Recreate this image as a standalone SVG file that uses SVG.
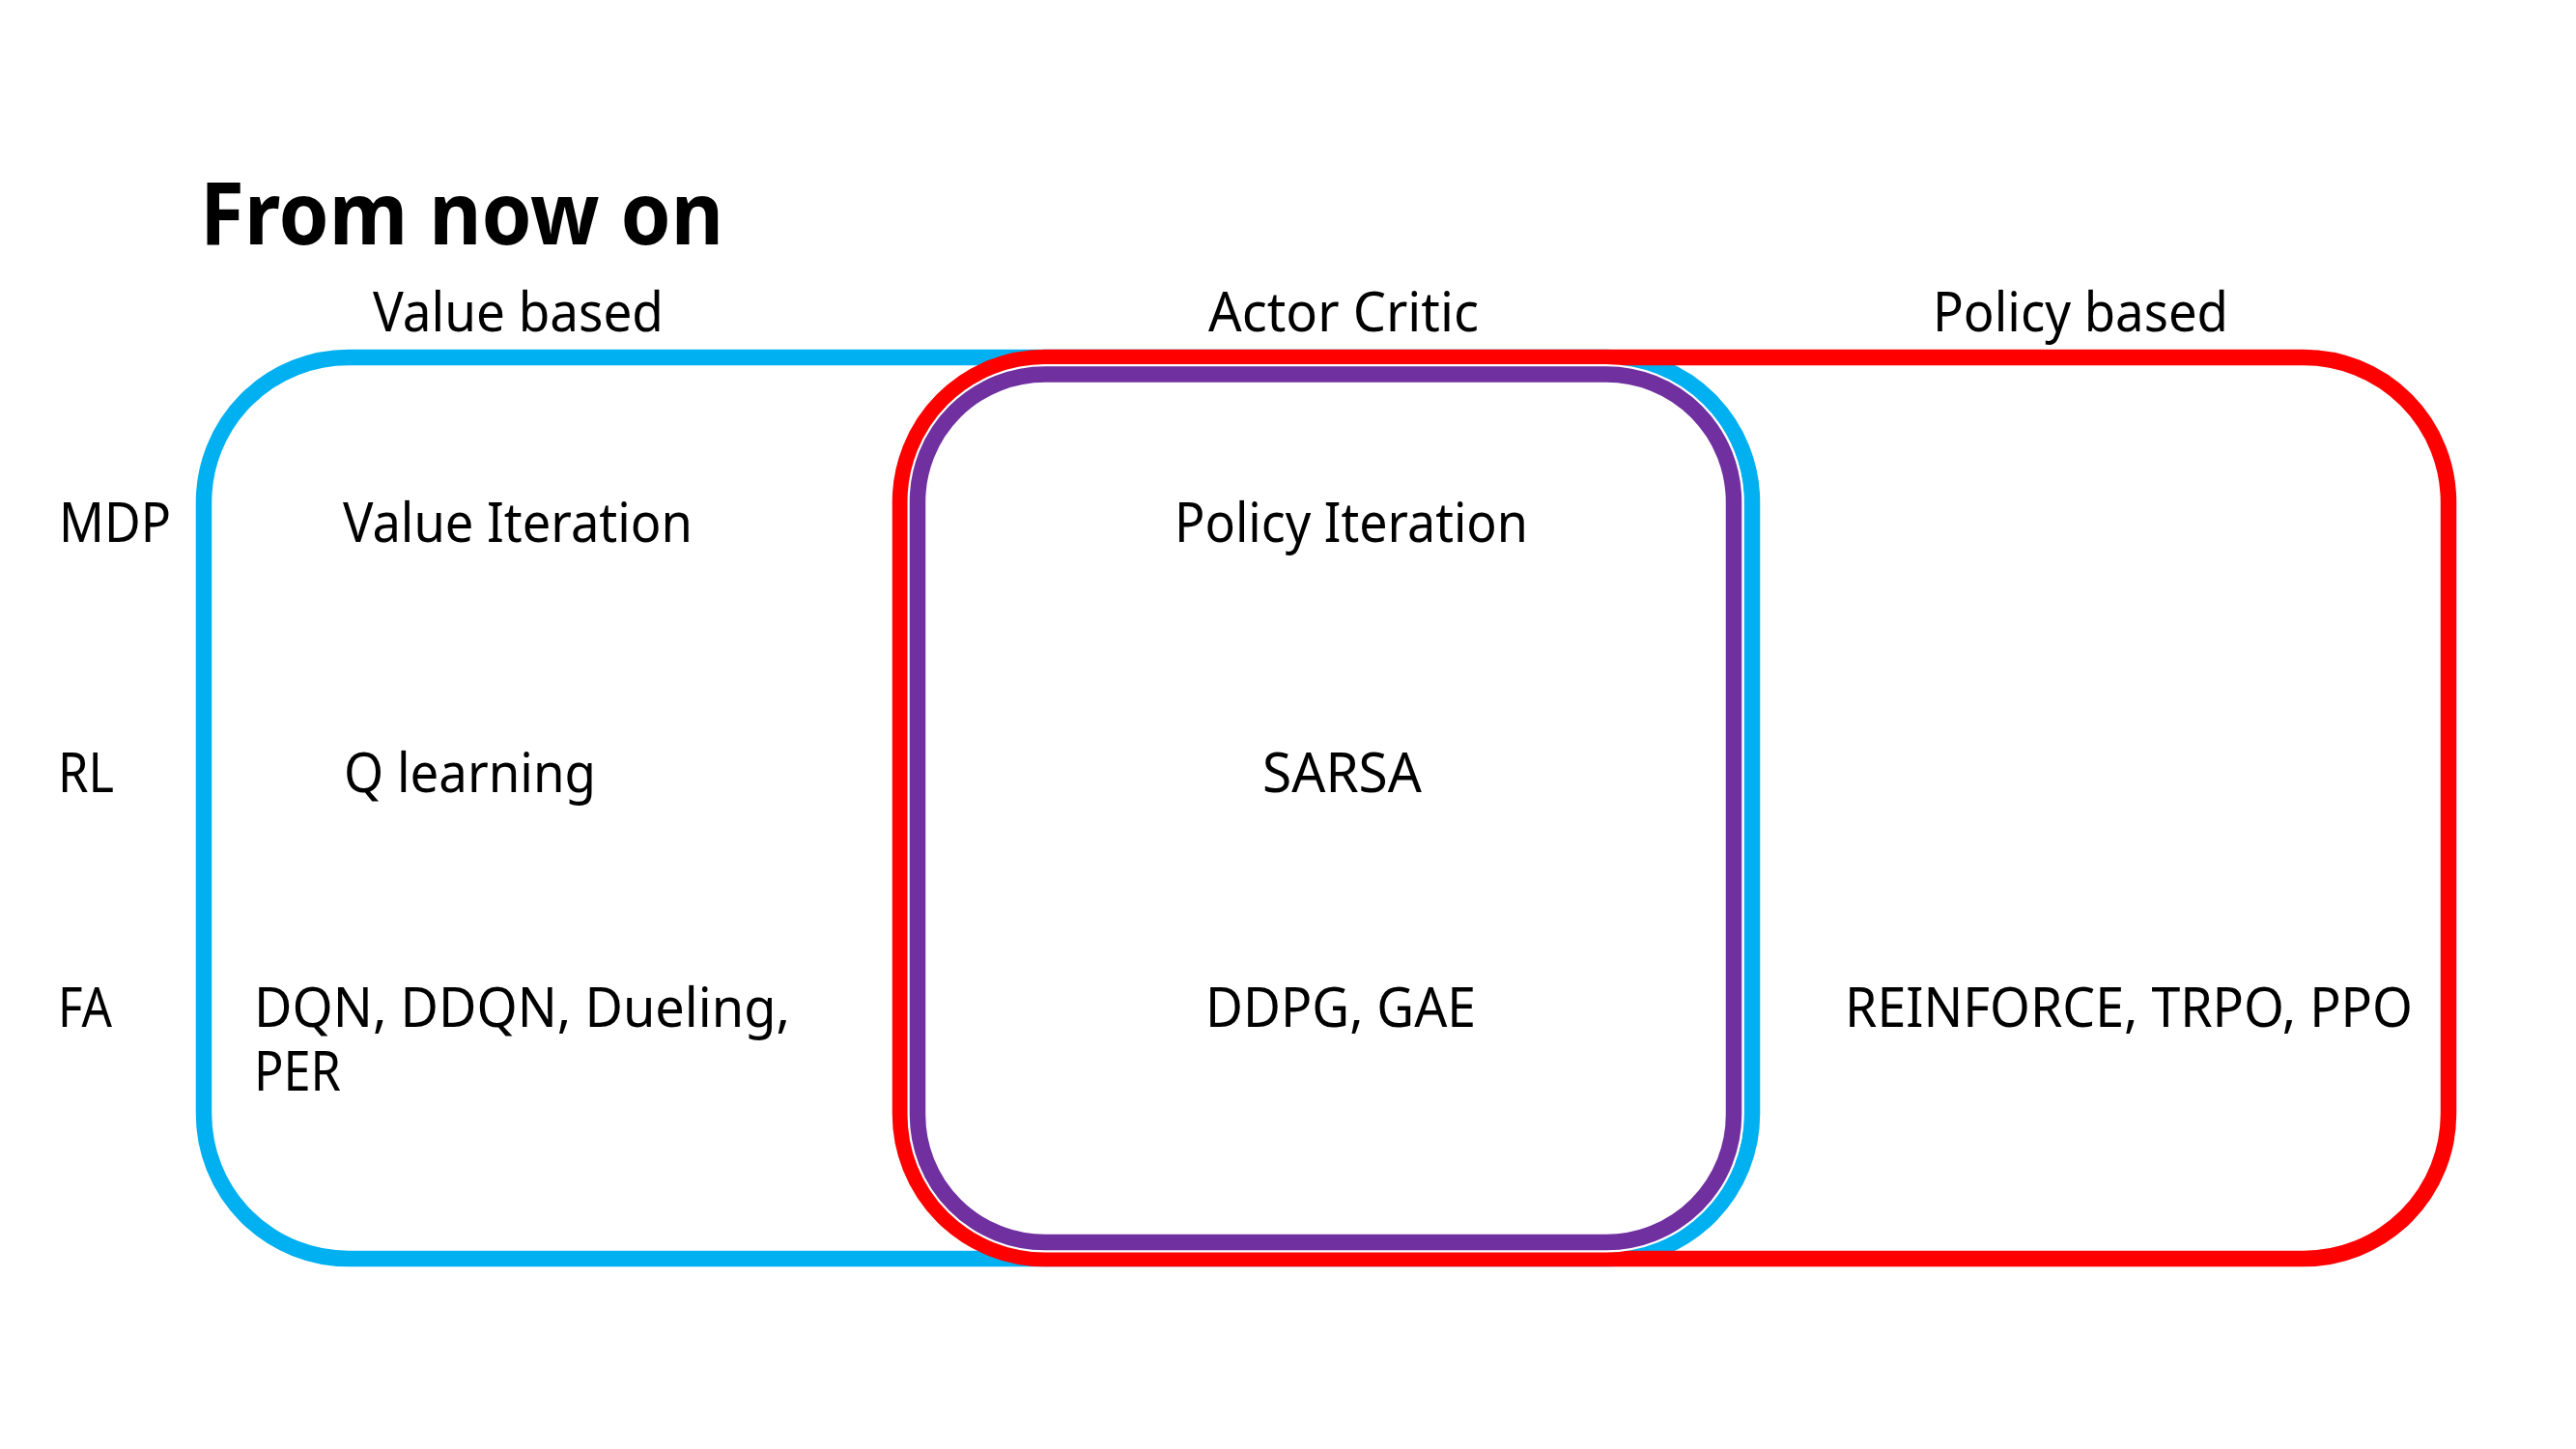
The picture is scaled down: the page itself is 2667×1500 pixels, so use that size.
<svg xmlns="http://www.w3.org/2000/svg" width="2667" height="1500" viewBox="0 0 2667 1500">
<style>
.t{font-family:"Noto Sans","Open Sans","DejaVu Sans",sans-serif;font-size:56px;fill:#000}
.title{font-family:"Noto Sans","Open Sans","DejaVu Sans",sans-serif;font-size:90px;font-weight:bold;fill:#000}
.box{fill:none;stroke-width:16.5}
</style>
<rect width="2667" height="1500" fill="#fff"/>
<g id="value-based">
<rect class="box" x="211" y="370" width="1603" height="933" rx="150" ry="150" stroke="#00B0F0"/>
</g>
<g id="policy-based">
<rect class="box" x="932" y="370" width="1603" height="933" rx="150" ry="150" stroke="#FF0000"/>
</g>
<g id="actor-critic">
<rect x="950" y="387.5" width="845" height="898.5" rx="132" ry="132" fill="none" stroke="#fff" stroke-width="21"/>
<rect class="box" x="950" y="387.5" width="845" height="898.5" rx="132" ry="132" stroke="#7030A0"/>
</g>
<g id="connectors"></g>
<g id="title">
<text class="title" x="207" y="253" textLength="542" lengthAdjust="spacingAndGlyphs">From now on</text>
</g>
<g id="headers">
<text class="t" x="386" y="343" textLength="301" lengthAdjust="spacingAndGlyphs">Value based</text>
<text class="t" x="1251" y="343" textLength="280" lengthAdjust="spacingAndGlyphs">Actor Critic</text>
<text class="t" x="2001" y="343" textLength="306" lengthAdjust="spacingAndGlyphs">Policy based</text>
</g>
<g id="rows">
<text class="t" x="61" y="561" textLength="116" lengthAdjust="spacingAndGlyphs">MDP</text>
<text class="t" x="60" y="820" textLength="58" lengthAdjust="spacingAndGlyphs">RL</text>
<text class="t" x="60" y="1063" textLength="56" lengthAdjust="spacingAndGlyphs">FA</text>
</g>
<g id="cells">
<text class="t" x="355" y="561" textLength="362" lengthAdjust="spacingAndGlyphs">Value Iteration</text>
<text class="t" x="1216" y="561" textLength="366" lengthAdjust="spacingAndGlyphs">Policy Iteration</text>
<text class="t" x="356" y="820" textLength="261" lengthAdjust="spacingAndGlyphs">Q learning</text>
<text class="t" x="1307" y="820" textLength="165" lengthAdjust="spacingAndGlyphs">SARSA</text>
<text class="t"><tspan x="263" y="1063" textLength="555" lengthAdjust="spacingAndGlyphs">DQN, DDQN, Dueling,</tspan><tspan x="263" y="1129" textLength="90" lengthAdjust="spacingAndGlyphs">PER</tspan></text>
<text class="t" x="1248" y="1063" textLength="280" lengthAdjust="spacingAndGlyphs">DDPG, GAE</text>
<text class="t" x="1910" y="1063" textLength="588" lengthAdjust="spacingAndGlyphs">REINFORCE, TRPO, PPO</text>
</g>
</svg>
